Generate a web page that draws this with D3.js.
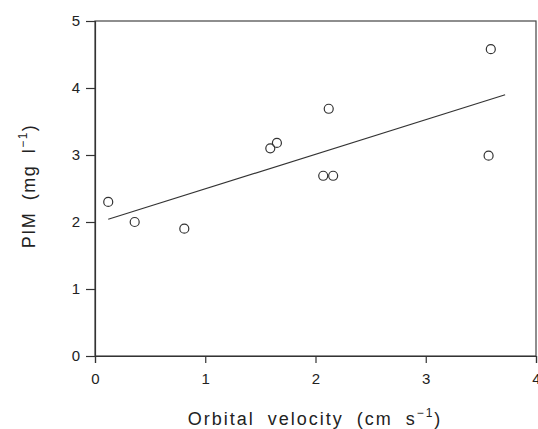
<!DOCTYPE html>
<html>
<head>
<meta charset="utf-8">
<title>PIM vs orbital velocity</title>
<script src="https://d3js.org/d3.v7.min.js"></script>
<style>
  body { margin: 0; background: #fff; }
  text { font-family: "Liberation Sans", Arial, sans-serif; fill: #222; }
</style>
</head>
<body>
<svg width="538" height="429"></svg>
<script>
// data
var velocity = [0.12, 0.36, 0.81, 1.59, 1.65, 2.12, 2.07, 2.16, 3.57, 3.59];
var pim      = [2.30, 2.00, 1.90, 3.10, 3.18, 3.69, 2.69, 2.69, 2.99, 4.58];
var xTicks = [0, 1, 2, 3, 4];
var yTicks = [0, 1, 2, 3, 4, 5];
// fitted line (ends)
var fitX = [0.12, 3.72];
var fitY = [2.04, 3.90];

var margin = {top: 21, right: 2, bottom: 73, left: 95};

var svg = d3.select("svg");
var g = svg.append("g")
  .attr("transform", "translate(" + margin.left + "," + margin.top + ")");

var x = d3.scaleLinear().domain([0, 4]).range([0, 441]);
var y = d3.scaleLinear().domain([0, 5]).range([335, 0]);

// frame
g.append("rect")
  .attr("x", x(0)).attr("y", y(5))
  .attr("width", x(4) - x(0)).attr("height", y(0) - y(5))
  .attr("fill", "none").attr("stroke", "#444").attr("stroke-width", 1.2);

// axes
var axX = g.append("g").attr("transform", "translate(0," + y(0) + ")")
  .call(d3.axisBottom(x).tickValues(xTicks).tickFormat(d3.format("d"))
    .tickSize(7).tickPadding(10));
var axY = g.append("g")
  .call(d3.axisLeft(y).tickValues(yTicks).tickFormat(d3.format("d"))
    .tickSize(9).tickPadding(6));
[axX, axY].forEach(function(a) {
  a.select(".domain").attr("stroke", "#333").attr("stroke-width", 1.2);
  a.selectAll(".tick line").attr("stroke", "#333").attr("stroke-width", 1.2);
  a.selectAll(".tick text").attr("font-size", 15).attr("fill", "#222")
    .style("font-family", "Liberation Sans, Arial, sans-serif");
});

// regression line
g.append("line")
  .attr("x1", x(fitX[0])).attr("y1", y(fitY[0]))
  .attr("x2", x(fitX[1])).attr("y2", y(fitY[1]))
  .attr("stroke", "#333").attr("stroke-width", 1.1);

// points
g.selectAll("circle").data(velocity).enter().append("circle")
  .attr("cx", function(d) { return x(d); })
  .attr("cy", function(d, i) { return y(pim[i]); })
  .attr("r", 4.5)
  .attr("fill", "none").attr("stroke", "#333").attr("stroke-width", 1.2);

// axis titles
var xt = svg.append("text")
  .attr("x", 315).attr("y", 425)
  .attr("text-anchor", "middle").attr("font-size", 18)
  .attr("letter-spacing", 2).attr("word-spacing", 6);
xt.append("tspan").text("Orbital velocity (cm s");
xt.append("tspan").attr("font-size", 12).attr("dy", -8).text("\u22121");
xt.append("tspan").attr("dy", 8).text(")");

var yt = svg.append("text")
  .attr("transform", "translate(35,186) rotate(-90)")
  .attr("text-anchor", "middle").attr("font-size", 18)
  .attr("letter-spacing", 1.5).attr("word-spacing", 5);
yt.append("tspan").text("PIM (mg l");
yt.append("tspan").attr("font-size", 12).attr("dy", -8).text("\u22121");
yt.append("tspan").attr("dy", 8).text(")");
</script>
</body>
</html>
